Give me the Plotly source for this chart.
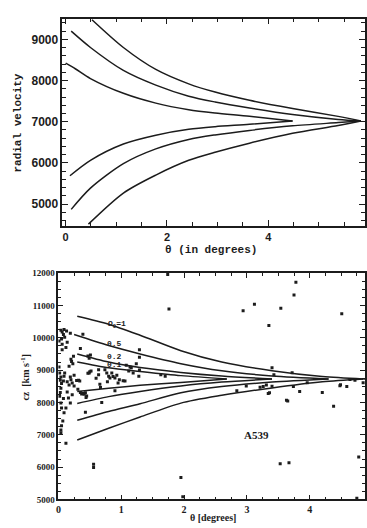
import plotly.graph_objects as go

W, H = 367, 528

# ---------------- top panel: radial velocity curves ----------------
top_ticks_x = [0, 2, 4]
top_ticks_y = [5000, 6000, 7000, 8000, 9000]

top_outer_up_t = [0.52, 1.14, 1.78, 2.43, 2.95, 3.63, 4.48, 5.38, 5.83]
top_outer_up_v = [9476, 8802, 8270, 7920, 7720, 7520, 7320, 7130, 7020]
top_mid_up_t = [0.11, 0.49, 1.14, 1.78, 2.43, 2.95, 3.63, 4.48, 5.38, 5.83]
top_mid_up_v = [9198, 8802, 8246, 7889, 7620, 7480, 7333, 7175, 7056, 7020]
top_in_up_t = [0.0, 0.19, 0.49, 1.14, 1.78, 2.43, 2.95, 3.63, 4.48]
top_in_up_v = [8421, 8286, 8048, 7690, 7452, 7293, 7214, 7135, 7020]
top_in_lo_t = [0.085, 0.49, 1.14, 1.78, 2.43, 2.95, 3.63, 4.48]
top_in_lo_v = [5690, 6064, 6460, 6674, 6817, 6880, 6937, 7020]
top_mid_lo_t = [0.11, 0.49, 1.14, 1.78, 2.43, 2.95, 3.63, 4.48, 5.38, 5.83]
top_mid_lo_v = [4873, 5388, 5983, 6341, 6570, 6680, 6790, 6900, 6980, 7020]
top_outer_lo_t = [0.45, 1.14, 1.78, 2.43, 2.95, 3.63, 4.48, 5.38, 5.83]
top_outer_lo_v = [4516, 5270, 5706, 6064, 6260, 6480, 6720, 6910, 7020]

# ---------------- bottom panel: A539 ----------------
omega_labels = ["Ω<sub>0</sub>=1", "0.5", "0.2", "0.1"]
omega_label_t = [0.93, 0.89, 0.89, 0.89]
omega_label_v = [10420, 9830, 9420, 9160]

om1_up_t = [0.3, 0.8, 1.3, 1.95, 2.6, 3.4, 4.2, 4.85]
om1_up_v = [10665, 10420, 10080, 9600, 9250, 8980, 8800, 8727]
om1_lo_t = [0.3, 0.8, 1.3, 1.95, 2.6, 3.4, 4.2, 4.85]
om1_lo_v = [6840, 7200, 7550, 7980, 8220, 8450, 8640, 8727]
om05_up_t = [0.25, 0.8, 1.3, 1.95, 2.6, 3.4, 4.3]
om05_up_v = [10100, 9760, 9500, 9200, 8980, 8820, 8727]
om05_lo_t = [0.3, 0.8, 1.3, 1.95, 2.6, 3.4, 4.3]
om05_lo_v = [7450, 7720, 7960, 8300, 8490, 8630, 8727]
om02_up_t = [0.3, 0.8, 1.3, 1.95, 2.6, 3.4]
om02_up_v = [9500, 9250, 9080, 8930, 8820, 8727]
om02_lo_t = [0.3, 0.8, 1.3, 1.95, 2.6, 3.4]
om02_lo_v = [7970, 8180, 8340, 8510, 8630, 8727]
om01_up_t = [0.3, 0.8, 1.3, 1.95, 2.68]
om01_up_v = [9250, 9070, 8960, 8830, 8727]
om01_lo_t = [0.3, 0.8, 1.3, 1.95, 2.68]
om01_lo_v = [8340, 8440, 8530, 8620, 8727]
tail_t = [4.85, 4.88]
tail_v = [8727, 8727]

gal_theta = [
    1.74, 1.76, 2.94, 3.12, 3.35, 3.54, 3.75, 3.78, 4.51, 3.40, 3.72, 3.43,
    2.84, 2.99, 3.21, 3.26, 3.31, 3.34, 3.36, 3.40, 3.63, 3.65, 3.74, 3.84,
    3.96, 4.20, 4.38, 4.48, 4.49, 4.59, 4.64, 4.72, 4.85, 4.78, 3.53, 3.67,
    1.95, 1.98, 4.75, 0.56, 0.56, 0.04, 0.04, 0.12, 1.29, 1.29, 1.29, 1.28,
    1.70, 1.63, 1.14, 1.24,
    0.04, 0.06, 0.09, 0.13, 0.19, 0.08, 0.05, 0.14, 0.06, 0.12, 0.06, 0.01,
    0.10, 0.20, 0.21, 0.23, 0.17, 0.24, 0.10, 0.09, 0.08, 0.01, 0.02, 0.04,
    0.03, 0.05, 0.04, 0.03, 0.02, 0.08, 0.04, 0.05, 0.09, 0.07, 0.05, 0.14,
    0.17, 0.14, 0.16, 0.19, 0.12, 0.22, 0.19, 0.25, 0.20, 0.22, 0.25, 0.32,
    0.34, 0.35, 0.37, 0.39, 0.41, 0.43, 0.45, 0.44, 0.43, 0.35, 0.39, 0.47,
    0.49, 0.51, 0.50, 0.49, 0.52, 0.47, 0.64, 0.64, 0.66, 0.67, 0.74, 0.77,
    0.80, 0.82, 0.85, 0.87, 0.90, 0.93, 0.97, 1.03, 1.06, 1.08, 1.12, 1.16,
    1.19, 0.69, 0.90, 0.60, 0.78, 0.95, 0.31, 0.29,
]
gal_cz = [
    11960, 10890, 10840, 11040, 10380, 10910, 11320, 11720, 10740, 9070, 8915, 8860,
    8360, 8510, 8470, 8490, 8540, 8280, 8300, 8500, 8065, 8045, 8490, 8340,
    8610, 8308, 7880, 8520, 8545, 8490, 8713, 8690, 8610, 6315, 6102, 6135,
    5680, 5080, 5040, 6090, 5990, 7150, 7060, 6740, 9630, 9400, 9000, 8810,
    8810, 8860, 9100, 9200,
    10230, 10180, 10260, 10210, 10140, 10100, 9960, 9860, 9800, 9700, 9630, 9900,
    10020, 9340, 9270, 9200, 9120, 9430, 8910, 8810, 8660, 9100, 8910, 8790,
    8690, 8590, 8440, 8310, 8190, 8120, 7980, 7830, 7680, 7430, 7280, 8640,
    8540, 8320, 8140, 7980, 7830, 8240, 8790, 8840, 8700, 8600, 8510, 8690,
    8660, 8310, 8260, 8280, 8250, 8300, 8200, 8150, 7700, 9670, 10110, 9440,
    9370, 9470, 8950, 8910, 8970, 8900, 9010, 8860, 8560, 8460, 9010, 8910,
    8810, 8760, 8910, 8800, 8760, 8840, 8700, 8670, 8660, 9150, 8970, 9070,
    8910, 8000, 8360, 8750, 8640, 8600, 8410, 8680,
]

bottom_ticks_x = [0, 1, 2, 3, 4]
bottom_ticks_y = [5000, 6000, 7000, 8000, 9000, 10000, 11000, 12000]

INK = "#1c1c1c"
fig = go.Figure()

def curve(t, v, xa, ya):
    fig.add_trace(go.Scatter(x=t, y=v, mode="lines", xaxis=xa, yaxis=ya,
                             line=dict(color=INK, width=1.5, shape="spline", smoothing=0.8),
                             hoverinfo="skip", showlegend=False))

for t, v in [(top_outer_up_t, top_outer_up_v), (top_mid_up_t, top_mid_up_v),
             (top_in_up_t, top_in_up_v), (top_in_lo_t, top_in_lo_v),
             (top_mid_lo_t, top_mid_lo_v), (top_outer_lo_t, top_outer_lo_v)]:
    curve(t, v, "x", "y")

for t, v in [(om1_up_t, om1_up_v), (om1_lo_t, om1_lo_v), (om05_up_t, om05_up_v),
             (om05_lo_t, om05_lo_v), (om02_up_t, om02_up_v), (om02_lo_t, om02_lo_v),
             (om01_up_t, om01_up_v), (om01_lo_t, om01_lo_v), (tail_t, tail_v)]:
    curve(t, v, "x2", "y2")

fig.add_trace(go.Scatter(x=gal_theta, y=gal_cz, mode="markers", xaxis="x2", yaxis="y2",
                         marker=dict(symbol="square", size=3, color=INK),
                         hoverinfo="skip", showlegend=False))

for lab, t, v in zip(omega_labels, omega_label_t, omega_label_v):
    fig.add_annotation(x=t, y=v, xref="x2", yref="y2", text=lab, showarrow=False,
                       xanchor="center", yanchor="middle",
                       font=dict(family="Liberation Mono", size=8, color=INK, weight="bold"))
fig.add_annotation(x=3.15, y=6980, xref="x2", yref="y2", text="A539", showarrow=False,
                   xanchor="center", yanchor="middle",
                   font=dict(family="Liberation Serif", size=11, color=INK, weight="bold"))

def px(xp):
    return xp / W

def py(yp):
    return 1 - yp / H

axis_common = dict(showline=True, linecolor=INK, linewidth=1.5, mirror="allticks",
                   ticks="inside", tickcolor=INK, showgrid=False, zeroline=False,
                   tickformat="d")

fig.update_layout(
    width=W, height=H, margin=dict(l=0, r=0, t=0, b=0),
    paper_bgcolor="white", plot_bgcolor="white",
    xaxis=dict(domain=[px(60), px(366)], range=[-0.065, 5.91], anchor="y",
               tickvals=top_ticks_x, ticklen=6, tickwidth=1.3,
               minor=dict(dtick=0.5, tick0=0, ticklen=4, ticks="inside", tickcolor=INK),
               tickfont=dict(family="Liberation Sans", size=11, color=INK, weight="bold"),
               **axis_common),
    yaxis=dict(domain=[py(225), py(14)], range=[4476, 9500], anchor="x",
               tickvals=top_ticks_y, ticklen=6, tickwidth=1.3,
               minor=dict(dtick=200, tick0=0, ticklen=4, ticks="inside", tickcolor=INK),
               tickfont=dict(family="Liberation Sans", size=12, color=INK, weight="bold"),
               **axis_common),
    xaxis2=dict(domain=[px(56), px(366)], range=[0, 4.88], anchor="y2",
                tickvals=bottom_ticks_x, ticklen=5, tickwidth=1.2,
                minor=dict(dtick=0.25, tick0=0, ticklen=3, ticks="inside", tickcolor=INK),
                tickfont=dict(family="Liberation Serif", size=10, color=INK, weight="bold"),
                **axis_common),
    yaxis2=dict(domain=[py(504), py(273.3)], range=[5000, 12000], anchor="x2",
                tickvals=bottom_ticks_y, ticklen=5, tickwidth=1.2,
                minor=dict(dtick=250, tick0=0, ticklen=3, ticks="inside", tickcolor=INK),
                tickfont=dict(family="Liberation Serif", size=9, color=INK, weight="bold"),
                **axis_common),
)

# axis titles
fig.add_annotation(x=px(15), y=py(120), xref="paper", yref="paper", text="radial velocity",
                   textangle=-90, showarrow=False, xanchor="center", yanchor="middle",
                   font=dict(family="Liberation Mono", size=11, color=INK, weight="bold"))
fig.add_annotation(x=px(210), y=py(250), xref="paper", yref="paper", text="θ (in degrees)",
                   showarrow=False, xanchor="center", yanchor="middle",
                   font=dict(family="Liberation Mono", size=11, color=INK, weight="bold"))
fig.add_annotation(x=px(22), y=py(379), xref="paper", yref="paper", text="cz  [km s<sup>-1</sup>]",
                   textangle=-90, showarrow=False, xanchor="center", yanchor="middle",
                   font=dict(family="Liberation Serif", size=10, color=INK, weight="bold"))
fig.add_annotation(x=px(212), y=py(522), xref="paper", yref="paper", text="θ [degrees]",
                   showarrow=False, xanchor="center", yanchor="middle",
                   font=dict(family="Liberation Serif", size=10, color=INK, weight="bold"))

fig.write_html("out.html")
